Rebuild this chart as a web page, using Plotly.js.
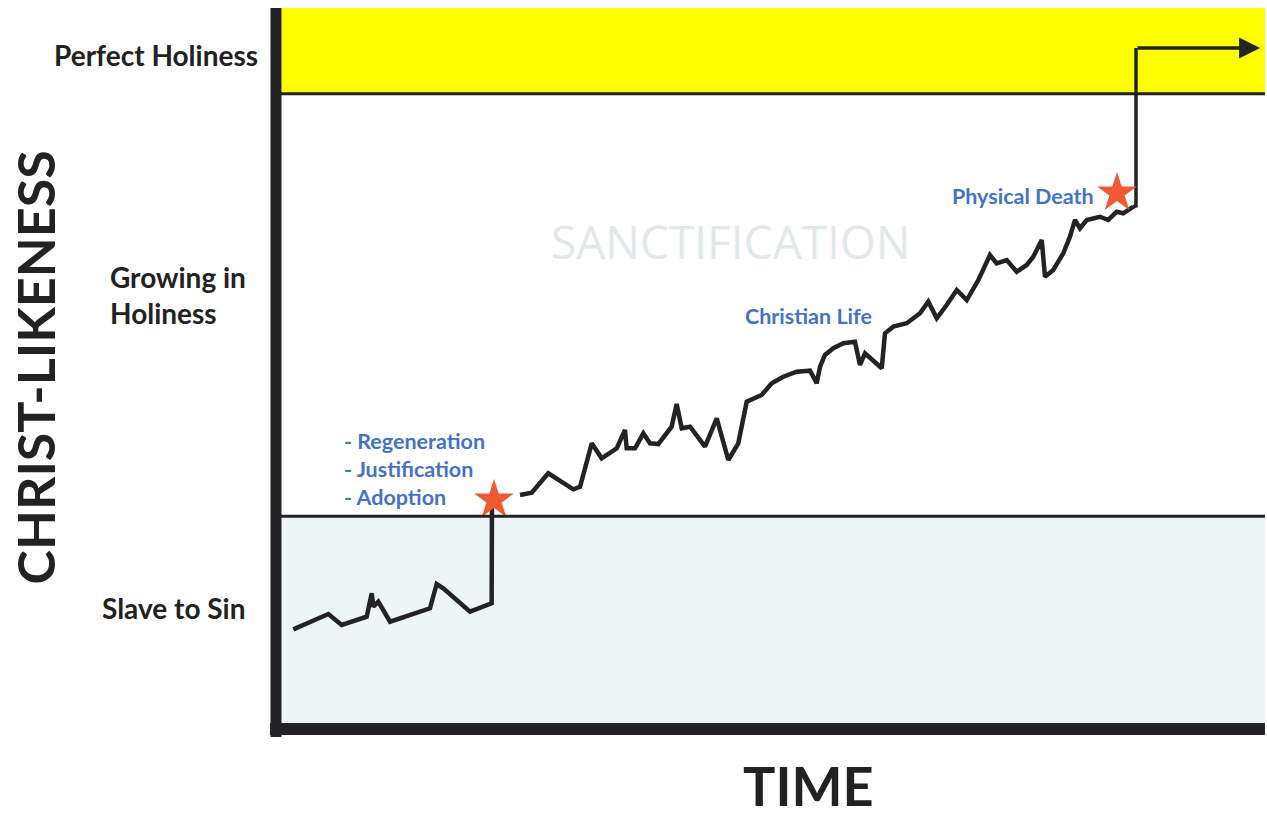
<!DOCTYPE html>
<html>
<head>
<meta charset="utf-8">
<script src="https://cdn.plot.ly/plotly-3.0.1.min.js"></script>
<style>html,body{margin:0;padding:0;background:#fff;}#chart{width:1267px;height:819px;}</style>
</head>
<body>
<div id="chart"></div>
<script>
// Time (0-100) and Christ-likeness (0-100) readings from the picture
const slaveTime = [1.25, 4.81, 6.17, 8.71, 9.22, 9.38, 9.89, 11.08, 15.14, 15.82, 16.49, 19.21, 21.41, 21.44];
const slaveLevel = [13.7, 15.83, 14.31, 15.46, 18.71, 16.85, 17.54, 14.76, 16.63, 20.0, 19.4, 16.15, 17.32, 31.25];

const lifeTime = [24.29, 25.48, 27.16, 29.71, 30.39, 31.07, 31.58, 32.59, 34.12, 34.96, 35.13, 35.98, 36.82, 37.50, 38.34,
  39.70, 40.21, 40.72, 41.57, 43.09, 44.28, 45.46, 46.47, 47.33, 48.0, 48.85, 49.87, 51.05, 52.41, 53.76, 54.27, 54.44,
  54.78, 55.28, 56.13, 57.15, 58.33, 58.84, 59.35, 60.19, 61.05, 61.38, 62.23, 63.59, 64.94, 65.78, 66.64, 67.65, 68.67,
  69.69, 70.87, 72.05, 72.73, 73.75, 74.77, 75.78, 76.45, 77.31, 77.64, 78.48, 79.50, 80.18, 80.69, 81.20, 81.88, 83.23,
  84.07, 84.93, 85.60, 86.62];
const lifeLevel = [32.36, 32.68, 35.38, 33.15, 33.51, 36.76, 39.54, 37.46, 38.85, 41.39, 38.85, 38.85, 40.93, 39.54, 39.44,
  41.85, 45.0, 41.63, 41.85, 39.07, 43.01, 37.22, 39.54, 45.32, 45.79, 46.25, 47.88, 48.79, 49.49, 49.63, 48.33, 47.88,
  50.18, 51.81, 52.74, 53.43, 53.65, 50.42, 52.04, 51.11, 49.96, 54.82, 55.74, 56.21, 57.60, 59.21, 56.90, 58.75, 60.83,
  59.44, 62.22, 65.69, 64.54, 65.0, 63.38, 64.31, 65.46, 67.78, 62.68, 63.61, 65.93, 68.24, 70.56, 69.40, 70.56, 71.01,
  70.56, 71.71, 71.49, 72.40];

const gloryTime = [86.62, 86.89, 86.89];
const gloryLevel = [72.40, 72.5, 94.44];
const arrowEnd = [99.5, 94.44];

const starTime = [21.65, 84.96];
const starLevel = [31.67, 74.31];

// band boundaries (Christ-likeness)
const perfectFrom = 88.1;
const slaveTo = 29.4;

const levelLabels = ["Perfect Holiness", "Growing in<br>Holiness", "Slave to Sin"];
const eventLabels = ["- Regeneration", "- Justification", "- Adoption"];

const dark = "#232326";
const blue = "#4472c4";
const F = "Lato, 'Open Sans', sans-serif";

const traces = [
  {x: slaveTime, y: slaveLevel, mode: "lines", line: {color: dark, width: 4.5}, hoverinfo: "skip"},
  {x: lifeTime, y: lifeLevel, mode: "lines", line: {color: dark, width: 4.5}, hoverinfo: "skip"},
  {x: gloryTime, y: gloryLevel, mode: "lines", line: {color: dark, width: 3.5}, hoverinfo: "skip"},
  {x: starTime, y: starLevel, mode: "markers", marker: {symbol: "star", size: 30, color: "#ef5a35", line: {width: 0}}, hoverinfo: "skip"}
];

const shapes = [
  {type: "rect", xref: "paper", yref: "y", x0: 0, x1: 1, y0: perfectFrom, y1: 100, fillcolor: "#ffff00", line: {width: 0}, layer: "below"},
  {type: "rect", xref: "paper", yref: "y", x0: 0, x1: 1, y0: 0, y1: slaveTo, fillcolor: "#eef5f7", line: {width: 0}, layer: "below"},
  {type: "line", xref: "paper", yref: "y", x0: 0, x1: 1, y0: perfectFrom, y1: perfectFrom, line: {color: dark, width: 3}},
  {type: "line", xref: "paper", yref: "y", x0: 0, x1: 1, y0: slaveTo, y1: slaveTo, line: {color: dark, width: 3}},
  {type: "line", xref: "paper", yref: "paper", x0: -0.0051, x1: -0.0051, y0: -0.0125, y1: 1.0, line: {color: dark, width: 11}},
  {type: "line", xref: "paper", yref: "paper", x0: -0.0112, x1: 1.0, y0: -0.0014, y1: -0.0014, line: {color: dark, width: 12}}
];

const blueFont = {family: F, size: 21.5, color: blue, weight: 700};
const blackFont = {family: F, size: 28, color: "#222", weight: 700};

const annotations = [
  {x: arrowEnd[0], y: arrowEnd[1], ax: gloryTime[2], ay: gloryLevel[2], xref: "x", yref: "y", axref: "x", ayref: "y",
   showarrow: true, arrowhead: 2, arrowsize: 1.2, arrowwidth: 3.5, arrowcolor: dark, text: ""},
  {xref: "paper", yref: "paper", x: -0.0213, y: 0.9347, xanchor: "right", yanchor: "middle", showarrow: false,
   text: levelLabels[0], font: blackFont},
  {xref: "paper", yref: "paper", x: -0.1758, y: 0.602, xanchor: "left", yanchor: "middle", align: "left", showarrow: false,
   text: levelLabels[1], font: blackFont},
  {xref: "paper", yref: "paper", x: -0.0335, y: 0.1667, xanchor: "right", yanchor: "middle", showarrow: false,
   text: levelLabels[2], font: blackFont},
  {xref: "paper", yref: "paper", x: -0.25, y: 0.5007, xanchor: "center", yanchor: "middle", textangle: -90, showarrow: false,
   text: "CHRIST-LIKENESS", font: {family: F, size: 52, color: "#222", weight: 700}},
  {xref: "paper", yref: "paper", x: 0.5356, y: -0.0792, xanchor: "center", yanchor: "middle", showarrow: false,
   text: "TIME", font: {family: F, size: 54, color: "#222", weight: 700}},
  {xref: "x", yref: "y", x: 45.73, y: 67.64, xanchor: "center", yanchor: "middle", showarrow: false,
   text: "SANCTIFICATION", font: {family: "'Open Sans', sans-serif", size: 46, color: "#e2e8e9", weight: 400}},
  {xref: "x", yref: "y", x: 53.56, y: 57.22, xanchor: "center", yanchor: "middle", showarrow: false,
   text: "Christian Life", font: blueFont},
  {xref: "x", yref: "y", x: 75.41, y: 73.89, xanchor: "center", yanchor: "middle", showarrow: false,
   text: "Physical Death", font: blueFont},
  {xref: "x", yref: "y", x: 6.2, y: 39.86, xanchor: "left", yanchor: "middle", showarrow: false,
   text: eventLabels[0], font: blueFont},
  {xref: "x", yref: "y", x: 6.2, y: 35.97, xanchor: "left", yanchor: "middle", showarrow: false,
   text: eventLabels[1], font: blueFont},
  {xref: "x", yref: "y", x: 6.2, y: 32.08, xanchor: "left", yanchor: "middle", showarrow: false,
   text: eventLabels[2], font: blueFont}
];

const layout = {
  width: 1267, height: 819,
  margin: {l: 281, r: 2, t: 8, b: 91},
  paper_bgcolor: "#ffffff", plot_bgcolor: "#ffffff",
  showlegend: false,
  xaxis: {range: [0, 100], visible: false, fixedrange: true},
  yaxis: {range: [0, 100], visible: false, fixedrange: true},
  shapes: shapes,
  annotations: annotations
};

Plotly.newPlot("chart", traces, layout, {displayModeBar: false, staticPlot: true});
</script>
</body>
</html>
